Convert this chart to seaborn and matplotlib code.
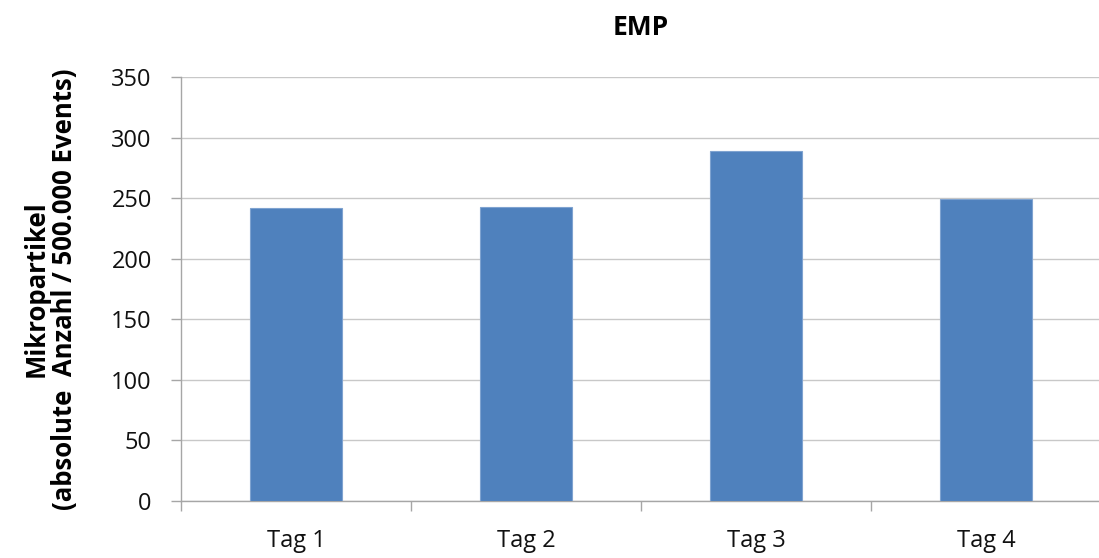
import matplotlib
matplotlib.use("Agg")
import matplotlib.pyplot as plt
from matplotlib.ticker import FixedLocator
import seaborn as sns
import pandas as pd

# Data
tage = ["Tag 1", "Tag 2", "Tag 3", "Tag 4"]
emp_werte = [242, 243, 289, 249]
y_ticks = [0, 50, 100, 150, 200, 250, 300, 350]

sns.set_theme(style="white")
plt.rcParams["font.family"] = ["Open Sans", "DejaVu Sans"]

df = pd.DataFrame({"Tag": tage, "EMP": emp_werte})

fig = plt.figure(figsize=(10.99, 5.58), dpi=100)
ax = fig.add_axes([181 / 1099, 1 - 501 / 558, 920 / 1099, 424 / 558])

sns.barplot(data=df, x="Tag", y="EMP", ax=ax, color="#4F81BD",
            saturation=1, width=0.4, edgecolor="#7FA3D0", linewidth=0.8,
            zorder=3)

ax.set_xlim(-0.5, 3.5)
ax.set_ylim(0, 350)
ax.set_yticks(y_ticks)
ax.yaxis.grid(True, color="#C8C8C8", linewidth=1.0, zorder=0)
ax.xaxis.grid(False)

for side in ["top", "right"]:
    ax.spines[side].set_visible(False)
ax.spines["left"].set_color("#A6A6A6")
ax.spines["bottom"].set_color("#A6A6A6")
ax.spines["left"].set_linewidth(1.0)
ax.spines["bottom"].set_linewidth(1.0)

# Category separators on the x axis
ax.xaxis.set_minor_locator(FixedLocator([-0.5, 0.5, 1.5, 2.5, 3.5]))
ax.tick_params(axis="x", which="major", length=0, pad=20, labelsize=17,
               labelcolor="#111111")
ax.tick_params(axis="x", which="minor", length=7, width=1.0, color="#A6A6A6",
               bottom=True)
ax.tick_params(axis="y", which="major", length=7, width=1.0, color="#A6A6A6",
               left=True, pad=14, labelsize=17, labelcolor="#111111")

ax.set_xlabel("")
ax.set_ylabel("Mikropartikel\n(absolute  Anzahl / 500.000 Events)",
              fontsize=18.5, fontweight="bold", linespacing=1.08, labelpad=24,
              color="#000000")
ax.set_title("EMP", fontsize=19, fontweight="bold", pad=30, color="#000000")

fig.savefig("out.png", dpi=100)
